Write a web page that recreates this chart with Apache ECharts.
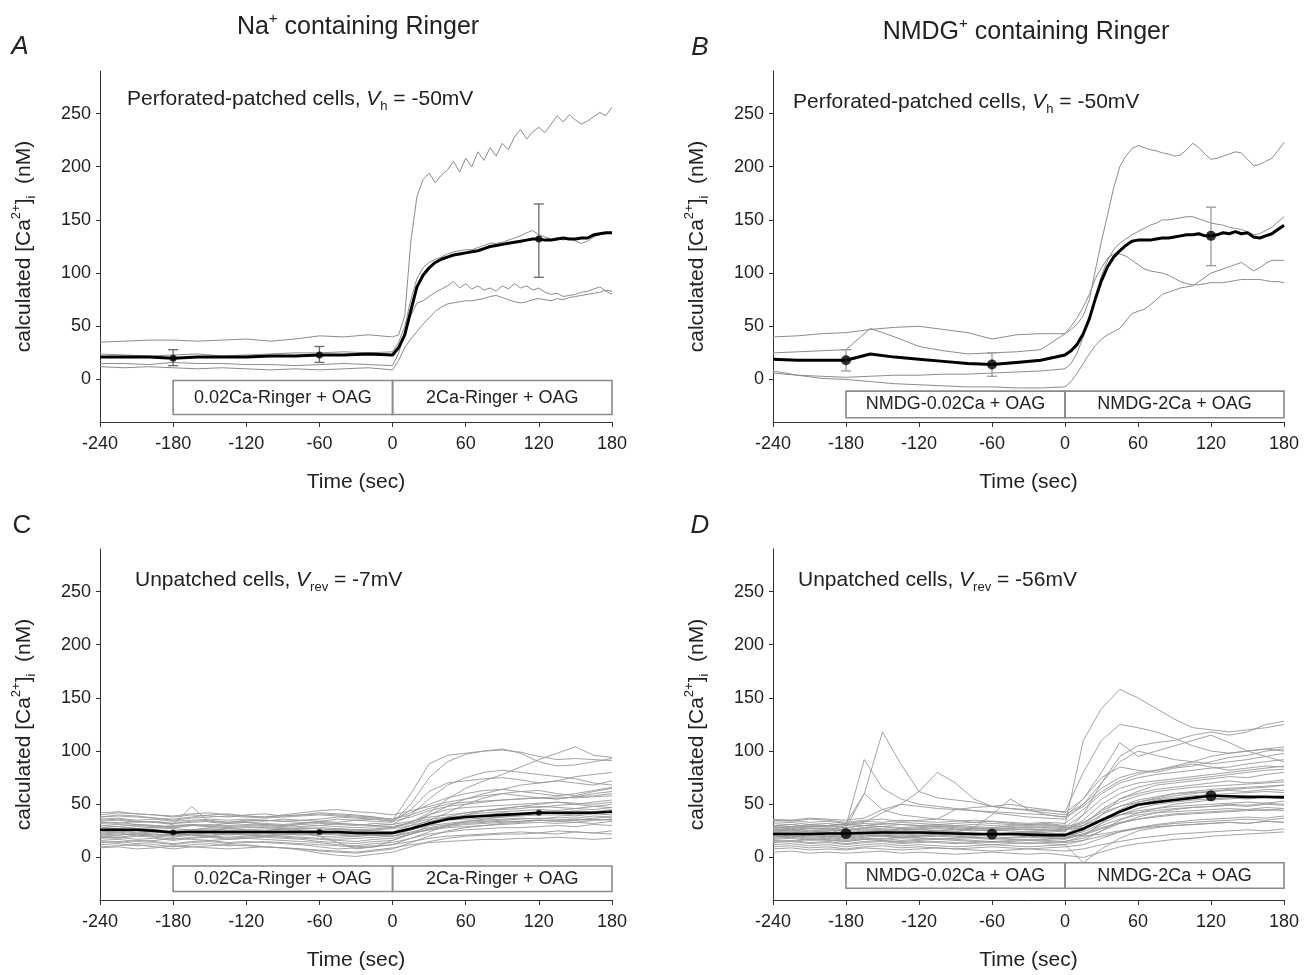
<!DOCTYPE html>
<html><head><meta charset="utf-8">
<script src="https://cdn.jsdelivr.net/npm/echarts@6/dist/echarts.min.js"></script>
<style>html,body{margin:0;padding:0;background:#fff}#c{width:1310px;height:975px}</style>
</head><body><div id="c"></div>
<script>
// ---------- data ----------
const xTicks = [-240, -180, -120, -60, 0, 60, 120, 180];
const yTicks = [0, 50, 100, 150, 200, 250];

const timeAB = [-240,-220,-200,-180,-160,-140,-120,-100,-80,-60,-40,-20,0,5,10,15,20,25,30,35,40,45,50,55,60,65,70,75,80,85,90,95,100,105,110,115,120,125,130,135,140,145,150,155,160,165,170,175,180];

const meanA = [21,21,21,20,21,21,21,22,22,23,23,24,23,
  30,42,65,87,98,105,110,113,115,117,118,119,120,121,123,125,126,127,128,129,130,131,132,132,131,131,132,133,132,132,133,133,136,137,138,138];
const tracesA = [
  [35,36,37,37,36,37,38,36,38,41,40,42,40,
   42,60,130,172,188,194,185,192,197,205,195,208,200,214,206,218,210,222,216,228,235,226,233,237,232,240,248,242,249,244,240,243,247,251,248,256],
  [24,23,22,23,24,22,23,24,25,25,26,25,26,
   35,50,75,95,105,110,113,115,118,120,121,122,122,124,126,128,128,129,131,133,135,138,140,136,134,132,133,131,133,130,128,130,134,136,137,137],
  [15,15,14,16,15,15,14,14,13,14,15,14,13,
   25,45,60,72,74,78,82,85,88,92,86,90,85,88,84,86,83,88,85,90,86,88,84,86,82,80,81,78,79,80,82,83,85,87,83,80],
  [12,11,12,11,10,11,10,9,10,9,10,11,9,
   18,30,38,45,52,58,64,68,71,72,73,74,74,75,76,78,79,77,75,73,72,73,75,76,75,74,76,75,77,78,79,80,81,82,84,83]
];
// [time, mean, low, high]
const errA = [[-180,20,13,28],[-60,23,16,31],[120,132,96,165]];

const meanB = [19,18,18,18,24,21,19,17,15,14,16,18,23,
  27,33,43,57,76,93,106,115,121,126,130,131,131,131,132,133,133,134,135,136,136,137,135,135,136,138,137,139,137,138,134,133,135,137,141,145];
const tracesB = [
  [40,41,43,44,47,49,50,47,44,38,42,43,43,
   47,52,60,75,103,130,155,180,200,210,217,220,218,216,215,213,212,210,211,216,222,218,212,207,208,210,212,214,213,207,201,202,205,208,215,223],
  [25,26,27,28,48,40,31,27,24,25,26,28,43,
   50,58,68,80,95,105,114,118,118,116,112,108,104,102,101,100,98,95,92,90,89,89,90,91,91,91,92,93,94,94,94,94,93,92,92,91],
  [6,4,3,2,3,4,4,5,5,6,7,8,10,
   15,25,40,58,78,98,112,122,128,132,136,139,142,145,147,150,150,151,152,153,153,151,149,147,146,145,143,142,141,139,136,137,140,143,148,153],
  [8,4,1,0,-2,-4,-5,-6,-7,-7,-8,-8,-7,
   -2,6,15,24,32,38,42,45,48,55,62,64,66,70,75,80,82,84,86,87,88,92,96,100,102,104,106,108,110,106,102,105,109,112,112,112]
];
const errB = [[-180,18,8,28],[-60,14,3,25],[120,135,107,162]];

const timeCD = [-240,-225,-210,-195,-180,-165,-150,-135,-120,-105,-90,-75,-60,-45,-30,-15,0,15,30,45,60,75,90,105,120,135,150,165,180];

const meanC = [26,26,26,25,23.5,24,24,24,24,24,24,24,24,24,23,23,23,27,32,36,38,39,40,41,42,42,42,42,43];
const tracesC = [
  [40,42,41,40,38,40,39,38,40,41,39,40,42,41,40,38,35, 60,88,96,98,100,101,99,95,92,93,92,91],
  [35,36,34,33,32,33,34,33,35,34,36,35,34,36,35,34,33, 50,75,90,97,100,102,98,90,86,87,90,93],
  [30,31,30,29,28,30,29,30,31,30,29,31,30,32,31,30,31, 40,55,68,75,80,82,80,78,76,74,70,68],
  [28,27,29,28,27,26,28,27,28,29,28,27,28,27,26,27,28, 33,42,55,65,72,78,85,92,98,104,96,94],
  [32,33,31,30,29,31,30,32,33,31,30,32,34,33,35,36,34, 45,62,70,72,74,75,73,70,72,76,78,80],
  [25,24,26,25,24,25,26,24,25,24,26,25,24,23,24,25,24, 30,40,48,55,60,64,68,70,72,70,68,72],
  [22,23,21,22,20,22,23,21,22,23,22,21,22,21,20,21,22, 28,35,42,50,56,60,62,63,60,58,62,65],
  [38,40,39,37,36,38,40,41,39,38,40,42,44,45,43,42,40, 44,48,52,55,58,60,58,56,55,57,60,62],
  [18,19,17,18,16,18,19,17,18,19,18,17,15,14,13,15,16, 22,30,36,40,44,46,48,50,52,50,48,50],
  [20,21,22,20,19,21,20,22,21,20,21,22,20,19,20,21,20, 26,33,38,42,44,45,46,48,47,46,48,47],
  [15,14,16,15,13,15,16,14,15,14,13,12,10,8,9,10,12, 18,24,30,34,36,38,40,42,41,40,42,44],
  [12,13,11,12,10,12,13,11,12,10,9,8,6,5,4,6,8, 14,20,25,28,30,32,33,35,34,33,35,36],
  [26,27,25,26,24,26,25,27,26,25,27,26,25,27,26,25,24, 28,32,35,36,37,38,39,40,40,39,41,40],
  [30,29,31,30,28,30,31,29,30,31,30,29,30,29,28,29,28, 32,36,38,39,40,42,41,43,42,44,43,45],
  [34,35,33,34,32,34,35,33,34,35,34,33,32,31,30,32,31, 34,38,40,42,44,46,48,47,49,50,52,54],
  [24,25,23,24,22,24,23,25,24,23,24,25,23,22,21,22,23, 26,30,32,34,35,36,37,36,38,37,39,38],
  [16,17,15,16,18,17,16,17,18,17,16,15,14,12,11,13,14, 18,22,24,26,27,28,28,29,30,29,31,30],
  [10,11,12,10,8,10,11,12,11,10,9,7,4,2,1,3,5, 10,15,18,20,21,22,22,23,22,24,23,22],
  [42,43,41,40,39,41,42,40,39,38,39,40,41,40,39,38,36, 42,50,56,60,63,64,62,60,58,60,63,66],
  [36,37,35,36,34,35,36,35,36,35,34,35,36,38,37,36,34, 38,44,48,50,52,54,55,56,55,57,58,60],
  [19,18,20,19,17,19,20,18,19,20,19,18,17,16,15,17,18, 22,26,29,31,32,33,34,35,34,35,36,35],
  [28,29,27,28,30,31,29,28,29,28,27,28,27,26,25,26,27, 30,34,37,38,39,40,40,41,42,41,43,42],
  [14,15,13,14,12,14,15,13,14,15,14,13,12,11,10,11,12, 15,18,20,21,22,23,24,23,25,24,23,25],
  [22,21,23,22,21,22,21,23,22,21,22,23,22,23,22,21,20, 24,28,31,33,34,35,36,37,36,35,37,38],
  [33,32,34,33,31,48,33,32,33,32,31,32,33,32,31,30,29, 33,40,45,47,48,49,50,51,52,51,50,52],
  [26,25,27,26,25,26,27,25,26,27,26,25,20,14,8,10,16, 22,27,30,32,33,34,34,35,35,36,35,36],
  [38,39,38,37,35,37,38,39,38,37,38,39,40,39,38,37,36, 40,46,50,52,53,54,55,56,57,56,57,58],
  [20,19,21,20,22,21,20,19,20,21,20,19,18,17,18,19,20, 23,26,28,29,30,31,32,33,32,33,32,34],
  [9,10,8,9,11,10,9,8,9,10,9,8,7,6,5,7,9, 12,14,15,16,17,17,18,18,19,18,17,18],
  [24,23,25,24,23,25,24,23,24,25,24,23,24,25,24,23,22, 26,32,36,40,42,43,44,45,44,46,45,47]
];
const dotsC = [[-180,23.5],[-60,24],[120,42]];

const meanD = [22,22,22,22.5,22.5,23,23.5,23.5,23.5,23,22.5,22,22,22,21.5,21,21,27,35,43,49.5,52,54,56,58,57.5,57,57,56.5];
const tracesD = [
  [28,27,29,30,32,60,118,88,62,56,54,52,48,46,45,44,43, 80,110,125,122,118,112,105,100,98,100,102,104],
  [25,26,24,25,30,92,65,55,50,48,46,44,42,40,38,37,36, 50,70,90,100,96,92,90,88,90,92,95,98],
  [30,29,31,30,31,33,42,50,62,80,70,55,48,50,47,45,42, 55,75,85,82,80,84,86,90,94,96,100,102],
  [22,23,21,22,28,60,45,40,38,36,35,33,34,32,31,30,29, 40,55,65,70,72,74,76,78,80,82,84,86],
  [30,31,29,30,31,30,32,31,30,31,30,29,28,30,31,32,30, 110,140,158,150,140,130,122,120,118,120,122,125],
  [26,25,27,26,25,27,26,25,26,27,26,25,26,27,26,25,24, 40,70,95,105,108,110,115,118,115,118,125,128],
  [20,21,19,20,18,20,21,19,20,22,24,28,40,55,45,40,38, 55,80,108,95,100,105,110,115,108,100,95,90],
  [35,34,36,35,33,35,36,34,35,36,45,47,48,46,44,42,40, 50,65,75,80,82,85,88,85,82,84,86,85],
  [18,19,17,18,16,18,17,19,18,17,18,19,18,17,16,17,18, 25,40,55,62,68,70,72,74,76,75,78,80],
  [24,25,23,24,22,24,25,23,24,25,24,23,22,23,24,23,22, 30,45,55,60,64,66,68,70,72,70,71,73],
  [15,16,14,15,13,15,16,14,15,14,13,14,15,14,13,14,15, 20,32,45,52,56,60,62,64,65,66,67,68],
  [28,29,27,28,26,28,29,27,28,29,28,27,28,27,26,27,26, 30,40,48,54,57,60,61,62,63,62,64,63],
  [12,13,11,12,10,12,13,11,12,11,10,11,12,11,10,11,12, 16,25,35,42,46,50,52,54,55,56,57,58],
  [22,21,23,22,21,23,22,21,22,23,22,21,20,21,22,21,20, 24,32,40,46,50,52,54,55,56,55,57,56],
  [32,33,31,32,30,32,31,33,32,31,32,33,32,31,30,31,29, 33,42,48,52,55,58,60,62,64,65,66,68],
  [17,18,16,17,15,17,18,16,17,18,17,16,15,16,17,16,15, 18,25,32,38,42,45,47,48,50,49,51,50],
  [26,27,25,26,24,26,25,27,26,25,26,27,26,25,24,25,26, 28,35,40,44,46,48,49,50,51,52,51,53],
  [20,19,21,20,19,21,20,19,20,21,20,19,18,19,20,19,18, 21,27,32,36,39,41,42,43,44,45,44,46],
  [10,11,9,10,8,10,11,9,10,9,8,9,10,9,8,9,10, 12,18,24,28,31,33,35,36,37,38,37,39],
  [30,31,29,30,28,30,29,31,30,29,30,31,30,29,28,29,28, 30,36,40,42,44,46,47,48,49,48,50,49],
  [5,6,4,5,4,5,6,4,5,4,3,4,5,4,3,4,2, 0,5,10,13,15,17,18,20,21,22,23,24],
  [24,23,25,24,23,25,24,23,24,25,24,23,22,23,24,23,22, 20,22,25,28,30,32,33,34,35,36,35,37],
  [14,15,13,14,12,14,15,13,14,15,14,13,12,13,14,13,12, -5,8,18,25,28,30,31,32,33,32,34,33],
  [34,35,33,34,32,34,33,35,34,33,34,35,34,33,32,33,32, 45,60,70,75,78,80,82,84,85,88,90,92],
  [19,20,18,19,17,19,20,18,19,20,19,18,17,18,19,18,17, 22,30,36,40,42,43,44,45,46,45,47,46],
  [27,26,28,27,26,28,27,26,27,28,27,26,25,26,27,26,25, 35,50,60,66,70,72,74,76,78,80,82,83],
  [21,22,20,21,20,22,21,20,21,22,21,20,21,22,21,20,19, 22,28,33,36,38,40,41,42,43,44,45,44],
  [16,15,17,16,15,17,16,15,16,17,16,15,14,15,16,15,14, 16,20,24,27,29,30,31,32,33,32,34,33],
  [8,9,7,8,7,9,8,7,8,9,8,7,6,7,8,7,6, 8,12,15,18,20,22,23,24,25,26,25,27],
  [36,35,37,36,35,37,45,50,48,46,45,44,43,42,41,40,38, 48,62,72,78,82,86,90,95,98,100,102,100],
  [23,24,22,23,22,24,23,22,23,24,23,22,21,22,23,22,21, 26,36,44,50,54,56,58,59,60,61,62,61],
  [29,28,30,29,28,30,29,28,29,30,29,28,27,28,29,28,27, 32,44,52,58,62,64,66,67,68,69,70,71]
];
const dotsD = [[-180,22.5],[-60,22],[120,58]];

const boxLabelsNa = ['0.02Ca-Ringer + OAG', '2Ca-Ringer + OAG'];
const boxLabelsNMDG = ['NMDG-0.02Ca + OAG', 'NMDG-2Ca + OAG'];

// ---------- chart ----------
const FONT = 'Liberation Sans, Arial, Helvetica, sans-serif';
const TXT = '#222';
const grids = [
  {left: 100, top: 71, width: 512, height: 351},
  {left: 773, top: 71, width: 511, height: 351},
  {left: 100, top: 549, width: 512, height: 351},
  {left: 773, top: 549, width: 511, height: 351}
];

const panels = [
  {time: timeAB, traces: tracesA, mean: meanA, dots: errA.map(e => [e[0], e[1]]), errs: errA,
   tc: '#8c8c8c', tw: 1, mw: 3, ds: 7, ec: '#6a6a6a', box: [-1, -33], labels: boxLabelsNa},
  {time: timeAB, traces: tracesB, mean: meanB, dots: errB.map(e => [e[0], e[1]]), errs: errB,
   tc: '#8c8c8c', tw: 1, mw: 3, ds: 10, ec: '#9a9a9a', box: [-11, -36], labels: boxLabelsNMDG},
  {time: timeCD, traces: tracesC, mean: meanC, dots: dotsC, errs: [],
   tc: '#989898', tw: 0.9, mw: 2.6, ds: 6, ec: '#888', box: [-8, -32], labels: boxLabelsNa},
  {time: timeCD, traces: tracesD, mean: meanD, dots: dotsD, errs: [],
   tc: '#989898', tw: 0.9, mw: 2.6, ds: 11, ec: '#888', box: [-5, -29], labels: boxLabelsNMDG}
];

const supSub = {
  sup: {fontSize: 13, verticalAlign: 'top', lineHeight: 28, fontFamily: FONT, color: TXT},
  sub: {fontSize: 13, verticalAlign: 'bottom', lineHeight: 28, fontFamily: FONT, color: TXT},
  it: {fontSize: 21, fontStyle: 'italic', lineHeight: 28, fontFamily: FONT, color: TXT},
  subs: {fontSize: 13, verticalAlign: 'bottom', lineHeight: 28, fontFamily: FONT, color: TXT}
};

const xAxes = grids.map((g, i) => ({
  gridIndex: i, type: 'value', min: -240, max: 180, interval: 60,
  axisLine: {show: true, onZero: false, lineStyle: {color: '#333', width: 1}},
  axisTick: {show: true, length: 5, lineStyle: {color: '#333'}},
  axisLabel: {fontSize: 18, color: TXT, fontFamily: FONT, margin: 13},
  splitLine: {show: false},
  name: 'Time (sec)', nameLocation: 'middle', nameGap: 50,
  nameTextStyle: {fontSize: 21, color: TXT, fontFamily: FONT}
}));
const yAxes = grids.map((g, i) => ({
  gridIndex: i, type: 'value', min: -40, max: 290,
  axisLine: {show: true, onZero: false, lineStyle: {color: '#333', width: 1}},
  axisTick: {show: true, length: 4, customValues: yTicks, lineStyle: {color: '#333'}},
  axisLabel: {fontSize: 18, color: TXT, fontFamily: FONT, margin: 9, customValues: yTicks},
  splitLine: {show: false},
  name: 'calculated [Ca{sup|2+}]{sub|i}  (nM)', nameLocation: 'middle', nameGap: 62,
  nameTextStyle: {fontSize: 21, color: TXT, fontFamily: FONT, lineHeight: 28, rich: supSub}
}));

function errRender(params, api) {
  const x = api.value(0), lo = api.value(2), hi = api.value(3);
  const p1 = api.coord([x, lo]), p2 = api.coord([x, hi]);
  const w = 5;
  const style = {stroke: api.visual('color'), lineWidth: 1.3, fill: null};
  return {type: 'group', children: [
    {type: 'line', shape: {x1: p1[0], y1: p1[1], x2: p2[0], y2: p2[1]}, style},
    {type: 'line', shape: {x1: p1[0] - w, y1: p1[1], x2: p1[0] + w, y2: p1[1]}, style},
    {type: 'line', shape: {x1: p2[0] - w, y1: p2[1], x2: p2[0] + w, y2: p2[1]}, style}
  ]};
}

const series = [];
panels.forEach((p, i) => {
  p.traces.forEach(tr => {
    series.push({
      type: 'line', xAxisIndex: i, yAxisIndex: i, silent: true, showSymbol: false, symbol: 'none',
      data: p.time.map((t, k) => [t, tr[k]]),
      lineStyle: {color: p.tc, width: p.tw}, z: 2
    });
  });
  series.push({
    type: 'line', xAxisIndex: i, yAxisIndex: i, silent: true, showSymbol: false, symbol: 'none',
    data: p.time.map((t, k) => [t, p.mean[k]]),
    lineStyle: {color: '#000', width: p.mw}, z: 4
  });
  if (p.errs.length) {
    series.push({
      type: 'custom', xAxisIndex: i, yAxisIndex: i, silent: true,
      renderItem: errRender, data: p.errs, encode: {x: 0, y: [2, 3]},
      itemStyle: {color: p.ec}, z: 5
    });
  }
  series.push({
    type: 'scatter', xAxisIndex: i, yAxisIndex: i, silent: true,
    data: p.dots, symbol: 'circle', symbolSize: p.ds,
    itemStyle: {color: '#000'}, z: 6
  });
  series.push({
    type: 'line', xAxisIndex: i, yAxisIndex: i, silent: true, data: [], z: 1,
    markArea: {
      silent: true,
      itemStyle: {color: 'rgba(255,255,255,0)', borderColor: '#8a8a8a', borderWidth: 1.6},
      label: {show: true, position: 'inside', color: TXT, fontSize: 18, fontFamily: FONT},
      data: [
        [{name: p.labels[0], xAxis: -180, yAxis: p.box[0]}, {xAxis: 0, yAxis: p.box[1]}],
        [{name: p.labels[1], xAxis: 0, yAxis: p.box[0]}, {xAxis: 180, yAxis: p.box[1]}]
      ]
    }
  });
});

function txt(x, y, text, opts) {
  return {type: 'text', x: x, y: y, silent: true, style: Object.assign({
    text: text, fill: TXT, fontSize: 21, fontFamily: FONT,
    align: 'left', verticalAlign: 'middle', textAlign: 'left', textVerticalAlign: 'middle',
    lineHeight: 28, rich: supSub
  }, opts || {})};
}

const graphics = [
  txt(358, 27, 'Na{sup|+} containing Ringer', {fontSize: 25, align: 'center', textAlign: 'center', lineHeight: 32,
      rich: {sup: {fontSize: 15, verticalAlign: 'top', lineHeight: 32, fontFamily: FONT, fill: TXT}}}),
  txt(1026, 32, 'NMDG{sup|+} containing Ringer', {fontSize: 25, align: 'center', textAlign: 'center', lineHeight: 32,
      rich: {sup: {fontSize: 15, verticalAlign: 'top', lineHeight: 32, fontFamily: FONT, fill: TXT}}}),
  txt(20, 47, 'A', {fontSize: 26, fontStyle: 'italic', align: 'center', textAlign: 'center'}),
  txt(700, 48, 'B', {fontSize: 26, fontStyle: 'italic', align: 'center', textAlign: 'center'}),
  txt(22, 526, 'C', {fontSize: 26, align: 'center', textAlign: 'center'}),
  txt(700, 526, 'D', {fontSize: 26, fontStyle: 'italic', align: 'center', textAlign: 'center'}),
  txt(127, 99, 'Perforated-patched cells, {it|V}{subs|h} = -50mV'),
  txt(793, 102, 'Perforated-patched cells, {it|V}{subs|h} = -50mV'),
  txt(135, 580, 'Unpatched cells, {it|V}{subs|rev} = -7mV'),
  txt(798, 580, 'Unpatched cells, {it|V}{subs|rev} = -56mV')
];

const chart = echarts.init(document.getElementById('c'), null, {renderer: 'canvas'});
chart.setOption({
  backgroundColor: '#fff',
  animation: false,
  textStyle: {fontFamily: FONT},
  grid: grids,
  xAxis: xAxes,
  yAxis: yAxes,
  series: series,
  graphic: graphics
});
</script>
</body></html>
